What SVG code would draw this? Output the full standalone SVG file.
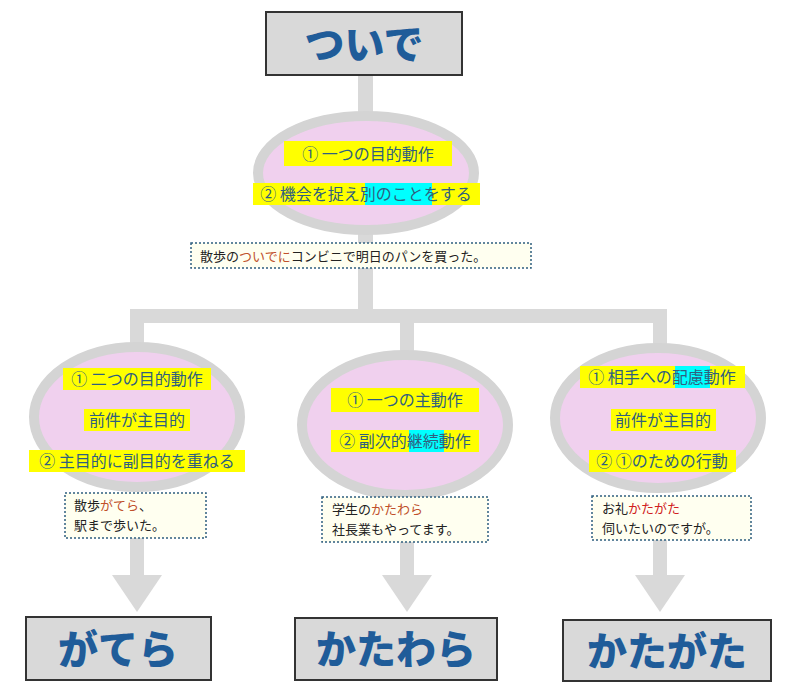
<svg xmlns="http://www.w3.org/2000/svg" width="800" height="692" viewBox="0 0 800 692">
<style>
.t{font-family:"Noto Sans CJK JP","Noto Sans",sans-serif;font-weight:900;font-size:40px;fill:#1f5c99;text-anchor:middle}
.box{fill:#d9d9d9;stroke:#333;stroke-width:2}
.ell{fill:#f0d0ee;stroke:#d4d4d4;stroke-width:10}
.l{font-family:"Noto Sans CJK JP",sans-serif;font-size:16px;fill:#2f5f7f;text-anchor:middle}
.ex{fill:#fffff0;stroke:#2f5f7f;stroke-width:1.5;stroke-dasharray:2 2}
.e{font-family:"Noto Sans CJK JP",sans-serif;font-size:13px;fill:#222}
.r{fill:#c0502a}
.y{fill:#ffff00}.c{fill:#00ffff}
.bar{fill:#d9d9d9}
</style>
<g id="connectors">
<rect class="bar" x="358" y="75" width="15" height="245"/>
<rect class="bar" x="130" y="309" width="537" height="14"/>
<rect class="bar" x="130" y="309" width="14" height="45"/>
<rect class="bar" x="400" y="309" width="14" height="52"/>
<rect class="bar" x="653" y="309" width="14" height="40"/>
<rect class="bar" x="130" y="536" width="14" height="40"/>
<polygon class="bar" points="112,575 162,575 137,612"/>
<rect class="bar" x="400" y="540" width="14" height="36"/>
<polygon class="bar" points="382,575 432,575 407,612"/>
<rect class="bar" x="653" y="538" width="14" height="38"/>
<polygon class="bar" points="635,575 685,575 660,612"/>
</g>
<g id="top"><rect class="box" x="266" y="12" width="196" height="63"/><text class="t" x="364" y="59">ついで</text></g>
<g id="main">
<ellipse class="ell" cx="366" cy="173" rx="108" ry="57"/>
<rect class="y" x="284" y="141" width="168" height="25"/>
<text class="l" x="368" y="160" font-size="17">① 一つの目的動作</text>
<rect class="y" x="253" y="183" width="227" height="22"/>
<rect class="c" x="365" y="183" width="67" height="22"/>
<text class="l" x="366" y="200">②  機会を捉え別のことをする</text>
</g>
<g id="ex0"><rect class="ex" x="191" y="243" width="340" height="25"/>
<text class="e" x="200" y="261">散歩の<tspan class="r">ついでに</tspan>コンビニで明日のパンを買った。</text></g>
<g id="n1">
<ellipse class="ell" cx="137" cy="417" rx="103" ry="70"/>
<rect class="y" x="63" y="368" width="148" height="22"/>
<text class="l" x="137" y="385">①  二つの目的動作</text>
<rect class="y" x="84" y="409" width="106" height="22"/>
<text class="l" x="137" y="426">前件が主目的</text>
<rect class="y" x="29" y="450" width="216" height="22"/>
<text class="l" x="137" y="467">② 主目的に副目的を重ねる</text>
</g>
<g id="ex1"><rect class="ex" x="65" y="493" width="141" height="45"/>
<text class="e" x="74" y="510">散歩<tspan class="r">がてら</tspan>、</text>
<text class="e" x="74" y="530">駅まで歩いた。</text></g>
<g id="n2">
<ellipse class="ell" cx="405" cy="425" rx="103" ry="70"/>
<rect class="y" x="331" y="388" width="148" height="24"/>
<text class="l" x="405" y="406" font-size="17">① 一つの主動作</text>
<rect class="y" x="331" y="430" width="148" height="22"/>
<rect class="c" x="409" y="430" width="35" height="22"/>
<text class="l" x="405" y="447">②  副次的継続動作</text>
</g>
<g id="ex2"><rect class="ex" x="322" y="497" width="166" height="45"/>
<text class="e" x="332" y="514">学生の<tspan class="r">かたわら</tspan></text>
<text class="e" x="332" y="534">社長業もやってます。</text></g>
<g id="n3">
<ellipse class="ell" cx="658" cy="418" rx="103" ry="70"/>
<rect class="y" x="580" y="366" width="165" height="22"/>
<rect class="c" x="675" y="366" width="35" height="22"/>
<text class="l" x="662" y="383">①  相手への配慮動作</text>
<rect class="y" x="611" y="409" width="105" height="22"/>
<text class="l" x="663" y="426">前件が主目的</text>
<rect class="y" x="589" y="450" width="147" height="22"/>
<text class="l" x="662" y="467">②  ①のための行動</text>
</g>
<g id="ex3"><rect class="ex" x="592" y="496" width="159" height="44"/>
<text class="e" x="602" y="513">お礼<tspan fill="#d02020">かたがた</tspan></text>
<text class="e" x="602" y="533">伺いたいのですが。</text></g>
<g id="b1"><rect class="box" x="26" y="617" width="185" height="63"/><text class="t" x="118" y="664">がてら</text></g>
<g id="b2"><rect class="box" x="295" y="618" width="202" height="62"/><text class="t" x="396" y="664">かたわら</text></g>
<g id="b3"><rect class="box" x="563" y="620" width="208" height="61"/><text class="t" x="667" y="666">かたがた</text></g>
</svg>
